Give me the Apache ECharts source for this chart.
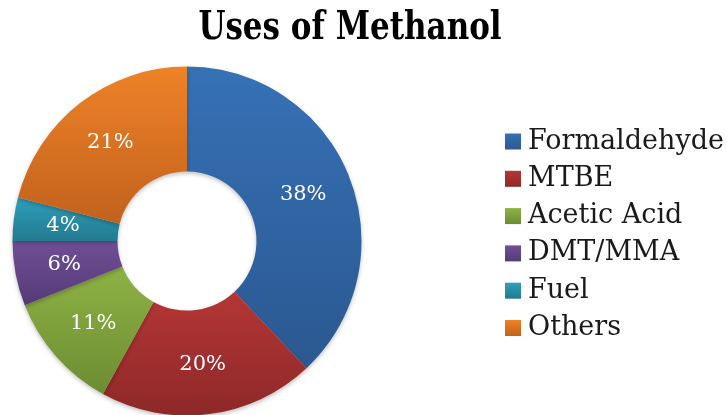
<!DOCTYPE html>
<html>
<head>
<meta charset="utf-8">
<script src="https://cdn.jsdelivr.net/npm/echarts@6/dist/echarts.min.js"></script>
<style>
  html, body { margin: 0; padding: 0; background: #fff; }
  #chart { width: 727px; height: 415px; }
</style>
</head>
<body>
<div id="chart"></div>
<script>
// Shares of methanol use, in percent
const categories = ['Formaldehyde', 'MTBE', 'Acetic Acid', 'DMT/MMA', 'Fuel', 'Others'];
const shares = [38, 20, 11, 6, 4, 21];
// light (top) and dark (bottom) tone of each slice
const topColors = ['#3671B6', '#B53636', '#8FB244', '#6F4F96', '#2F9FBB', '#EE8227'];
const bottomColors = ['#2B5890', '#8E2828', '#6C8C32', '#553A77', '#227A90', '#C2621D'];

const serif = '"DejaVu Serif", "Liberation Serif", serif';

function grad(i) {
  return new echarts.graphic.LinearGradient(0, 0, 0, 1, [
    { offset: 0, color: topColors[i] },
    { offset: 1, color: bottomColors[i] }
  ]);
}

const chart = echarts.init(document.getElementById('chart'), null, { renderer: 'canvas' });
chart.setOption({
  backgroundColor: '#ffffff',
  animation: false,
  graphic: [{
    // heading, stretched vertically to a tall bold serif look
    type: 'text',
    x: 350,
    y: 29,
    scaleY: 1.28,
    style: {
      text: 'Uses of Methanol',
      fontFamily: serif,
      fontWeight: 'bold',
      fontSize: 31,
      fill: '#000',
      align: 'center',
      verticalAlign: 'middle'
    }
  }],
  legend: {
    orient: 'vertical',
    left: 505,
    top: 128,
    padding: 0,
    itemWidth: 16,
    itemHeight: 16,
    itemGap: 10.3,
    icon: 'rect',
    textStyle: { fontFamily: serif, fontSize: 27, color: '#1a1a1a', padding: [0, 0, 0, 2] },
    data: categories
  },
  series: [{
    type: 'pie',
    center: [187, 241],
    radius: [69.5, 174.5],
    startAngle: 90,
    clockwise: true,
    avoidLabelOverlap: false,
    label: {
      show: true,
      position: 'inside',
      formatter: '{c}%',
      fontFamily: serif,
      fontSize: 21,
      color: '#fff'
    },
    labelLine: { show: false },
    itemStyle: {
      shadowBlur: 4,
      shadowColor: 'rgba(0,0,0,0.25)',
      shadowOffsetY: 2
    },
    data: categories.map((name, i) => ({
      name,
      value: shares[i],
      itemStyle: { color: grad(i) }
    }))
  }]
});
</script>
</body>
</html>
